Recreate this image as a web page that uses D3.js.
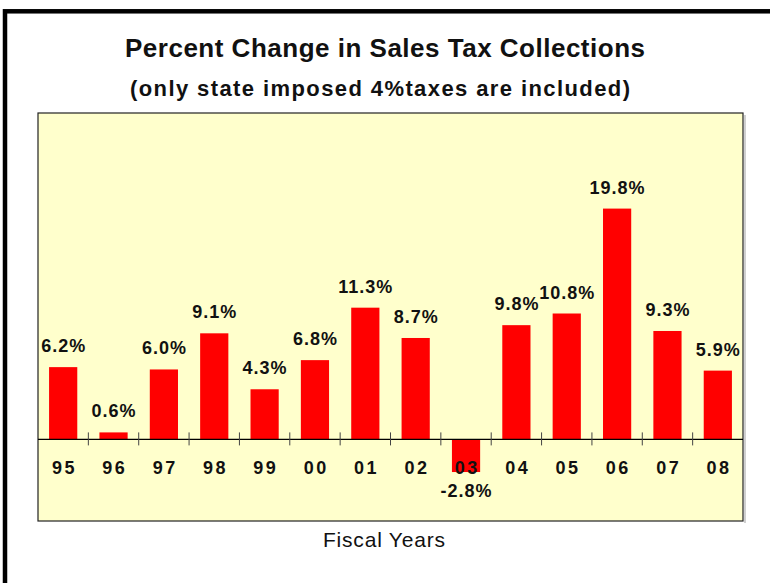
<!DOCTYPE html>
<html>
<head>
<meta charset="utf-8">
<script src="https://cdn.jsdelivr.net/npm/d3@7"></script>
<style>
  html, body { margin: 0; padding: 0; background: #fff; }
  svg { display: block; font-family: Arial, "Liberation Sans", sans-serif; }
</style>
</head>
<body>
<div id="chart"></div>
<script>
const years = ["95", "96", "97", "98", "99", "00", "01", "02", "03", "04", "05", "06", "07", "08"]
const changes = [6.2, 0.6, 6.0, 9.1, 4.3, 6.8, 11.3, 8.7, -2.8, 9.8, 10.8, 19.8, 9.3, 5.9]
const yDomain = [-7, 28]

const width = 770
const height = 583
const plot = { left: 38, right: 743, top: 113, bottom: 521 }

const svg = d3.select("#chart").append("svg")
  .attr("width", width)
  .attr("height", height)

// outer frame (only left and top edges fall inside the window)
svg.append("rect")
  .attr("x", 5).attr("y", 11.3)
  .attr("width", 820).attr("height", 640)
  .attr("fill", "#fff")
  .attr("stroke", "#000").attr("stroke-width", 4.5)

// titles
svg.append("text")
  .attr("x", 385).attr("y", 57)
  .attr("text-anchor", "middle")
  .attr("font-size", 26).attr("font-weight", "bold").attr("fill", "#111")
  .attr("textLength", 520).attr("lengthAdjust", "spacing")
  .text("Percent Change in Sales Tax Collections")
svg.append("text")
  .attr("x", 380).attr("y", 96)
  .attr("text-anchor", "middle")
  .attr("font-size", 22).attr("font-weight", "bold").attr("fill", "#111")
  .attr("textLength", 500).attr("lengthAdjust", "spacing")
  .text("(only state imposed 4%taxes are included)")

// plot area
svg.append("rect")
  .attr("x", plot.right + 1).attr("y", plot.top + 2)
  .attr("width", 2).attr("height", plot.bottom - plot.top)
  .attr("fill", "#d0d0d0")
svg.append("rect")
  .attr("x", plot.left).attr("y", plot.top)
  .attr("width", plot.right - plot.left).attr("height", plot.bottom - plot.top)
  .attr("fill", "#FFFFCC")
  .attr("stroke", "#222").attr("stroke-width", 1.2)

const x = d3.scaleBand().domain(years).range([plot.left, plot.right])
  .paddingInner(0.44).paddingOuter(0.22)
const y = d3.scaleLinear().domain(yDomain).range([plot.bottom, plot.top])

const data = years.map((yr, i) => ({ yr, v: changes[i] }))

// bars
svg.append("g").selectAll("rect")
  .data(data)
  .join("rect")
  .attr("x", d => x(d.yr))
  .attr("width", x.bandwidth())
  .attr("y", d => y(Math.max(0, d.v)))
  .attr("height", d => Math.abs(y(d.v) - y(0)))
  .attr("fill", "#FF0000")

// zero axis with ticks between categories
svg.append("line")
  .attr("x1", plot.left).attr("x2", plot.right)
  .attr("y1", y(0)).attr("y2", y(0))
  .attr("stroke", "#000").attr("stroke-width", 1.2)

const bounds = years.slice(1).map(yr => x(yr) + x.bandwidth() / 2 - x.step() / 2)
svg.append("g").selectAll("line")
  .data(bounds)
  .join("line")
  .attr("x1", d => d).attr("x2", d => d)
  .attr("y1", y(0) - 7).attr("y2", y(0) + 6)
  .attr("stroke", "#444").attr("stroke-width", 1)

// category labels
svg.append("g").selectAll("text")
  .data(years)
  .join("text")
  .attr("x", d => x(d) + x.bandwidth() / 2 + 1.25)
  .attr("y", 474)
  .attr("text-anchor", "middle")
  .attr("font-size", 18).attr("font-weight", "bold").attr("fill", "#111")
  .attr("letter-spacing", 2.5)
  .text(d => d)

// value labels
svg.append("g").selectAll("text")
  .data(data)
  .join("text")
  .attr("x", d => x(d.yr) + x.bandwidth() / 2 + 0.5)
  .attr("y", d => d.v >= 0 ? y(d.v) - 15 : y(d.v) + 25)
  .attr("text-anchor", "middle")
  .attr("font-size", 18).attr("font-weight", "bold").attr("fill", "#111")
  .attr("letter-spacing", 1)
  .text(d => d.v.toFixed(1) + "%")

// axis title
svg.append("text")
  .attr("x", 384).attr("y", 547)
  .attr("text-anchor", "middle")
  .attr("font-size", 21).attr("fill", "#111")
  .attr("textLength", 122).attr("lengthAdjust", "spacing")
  .text("Fiscal Years")
</script>
</body>
</html>
